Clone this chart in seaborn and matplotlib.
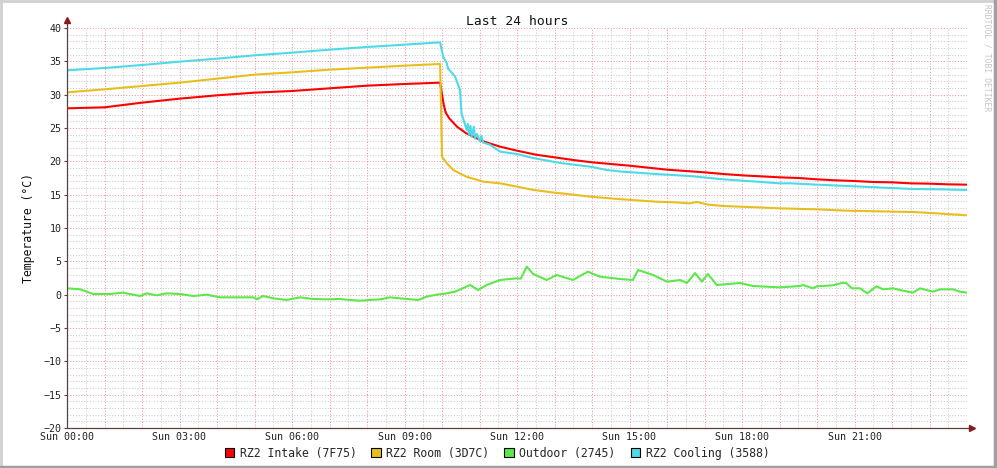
import matplotlib
matplotlib.use("Agg")
import matplotlib.pyplot as plt
import seaborn as sns
from matplotlib.lines import Line2D
from matplotlib.patches import Patch
from matplotlib.ticker import MultipleLocator

# values (hours since Sun 00:00, degrees C)
intake_hours = [0, 1, 2, 3, 4, 5, 6, 7, 8, 9,
                9.95, 10.0, 10.05, 10.1, 10.2, 10.4, 10.65, 11.1, 11.55,
                12.0, 12.5, 13.0, 13.5, 14.0, 14.5, 15.0, 15.5, 16.0, 16.5, 17.0, 17.5,
                18.0, 18.5, 19.0, 19.5, 20.0, 20.5, 21.0, 21.5, 22.0, 22.5, 23.0, 23.5, 24.0]
intake_temp = [27.95, 28.1, 28.8, 29.4, 29.9, 30.3, 30.55, 30.95, 31.35, 31.6,
               31.8, 30.0, 28.4, 27.3, 26.4, 25.2, 24.2, 23.0, 22.2,
               21.6, 21.0, 20.6, 20.2, 19.85, 19.6, 19.35, 19.05, 18.75, 18.55, 18.35, 18.1,
               17.9, 17.75, 17.6, 17.5, 17.3, 17.15, 17.05, 16.9, 16.85, 16.7, 16.65, 16.55, 16.5]

room_hours = [0, 1, 2, 3, 4, 5, 6, 7, 8, 9,
              9.95, 10.0, 10.13, 10.3, 10.65, 11.1, 11.55, 12.0, 12.45, 13.0, 13.35, 13.95,
              14.8, 15.7, 16.2, 16.6, 16.8, 17.1, 17.5, 18.4, 19.0, 19.3, 20.0, 20.8,
              21.6, 22.55, 23.2, 24.0]
room_temp = [30.35, 30.8, 31.3, 31.8, 32.4, 33.0, 33.35, 33.75, 34.05, 34.35,
             34.6, 20.7, 19.7, 18.7, 17.7, 16.95, 16.7, 16.2, 15.7, 15.3, 15.1, 14.7,
             14.3, 13.95, 13.85, 13.7, 13.9, 13.5, 13.3, 13.1, 12.95, 12.9, 12.8, 12.6,
             12.5, 12.4, 12.2, 11.9]

outdoor_hours = [0, 0.35, 0.7, 1.15, 1.49, 1.95, 2.13, 2.39, 2.66, 3.01,
                 3.37, 3.73, 4.08, 4.97, 5.06, 5.23, 5.5, 5.86, 6.21, 6.57,
                 6.93, 7.28, 7.55, 7.81, 8.35, 8.61, 8.88, 9.37, 9.59, 9.86,
                 10.13, 10.35, 10.75, 10.96, 11.19, 11.55, 11.99, 12.1, 12.26, 12.43,
                 12.79, 13.06, 13.49, 13.89, 14.21, 14.75, 15.09, 15.23, 15.63, 16.0,
                 16.35, 16.53, 16.75, 16.93, 17.09, 17.33, 17.95, 18.29, 19.01, 19.55,
                 19.63, 19.89, 19.99, 20.43, 20.69, 20.79, 20.93, 21.15, 21.34, 21.59,
                 21.76, 22.03, 22.29, 22.56, 22.75, 23.09, 23.28, 23.63, 23.81, 24.0]
outdoor_temp = [0.95, 0.8, 0.1, 0.1, 0.3, -0.2, 0.2, -0.1, 0.2, 0.1,
                -0.2, 0.0, -0.4, -0.4, -0.7, -0.2, -0.55, -0.8, -0.4, -0.65,
                -0.7, -0.65, -0.8, -0.9, -0.7, -0.4, -0.55, -0.8, -0.3, 0.0,
                0.2, 0.45, 1.45, 0.7, 1.45, 2.2, 2.45, 2.4, 4.2, 3.1,
                2.2, 2.95, 2.2, 3.45, 2.7, 2.35, 2.2, 3.7, 2.95, 1.95,
                2.2, 1.75, 3.25, 1.95, 3.1, 1.45, 1.75, 1.3, 1.1, 1.3,
                1.45, 0.95, 1.25, 1.4, 1.8, 1.7, 0.95, 0.95, 0.2, 1.25,
                0.8, 0.95, 0.6, 0.3, 0.95, 0.45, 0.8, 0.8, 0.45, 0.3]

cooling_hours = [0, 1, 2, 3, 4, 5, 6, 7, 8, 9,
                 9.95, 10.03, 10.13, 10.16, 10.35, 10.48, 10.52, 10.66, 10.69, 10.72,
                 10.76, 10.79, 10.85, 10.88, 10.93, 11.01, 11.05, 11.1, 11.28, 11.55,
                 12.0, 12.43, 13.15, 13.95, 14.4, 14.8, 15.7, 16.6, 17.5, 18.4,
                 19.0, 19.3, 20.0, 20.8, 21.6, 22.55, 23.3, 24.0]
cooling_temp = [33.65, 34.0, 34.45, 34.95, 35.4, 35.9, 36.3, 36.75, 37.15, 37.5,
                37.85, 35.7, 34.7, 33.95, 32.7, 30.7, 27.2, 24.7, 25.6, 24.0,
                25.3, 23.7, 25.2, 23.4, 24.1, 23.0, 23.8, 22.8, 22.5, 21.45,
                21.1, 20.5, 19.75, 19.2, 18.7, 18.45, 18.1, 17.8, 17.3, 16.95,
                16.7, 16.7, 16.5, 16.3, 16.1, 15.85, 15.8, 15.7]

series_labels = ["RZ2 Intake (7F75)", "RZ2 Room (3D7C)", "Outdoor (2745)", "RZ2 Cooling (3588)"]
series_colors = ["#FF0000", "#E8BE1E", "#5CE84A", "#4CDAE8"]

tick_hours = [0, 3, 6, 9, 12, 15, 18, 21]
tick_labels = ["Sun 00:00", "Sun 03:00", "Sun 06:00", "Sun 09:00",
               "Sun 12:00", "Sun 15:00", "Sun 18:00", "Sun 21:00"]

sns.set_theme(style="white")
plt.rcParams["font.family"] = ["DejaVu Sans Mono", "DejaVu Sans"]

fig = plt.figure(figsize=(9.97, 4.68), dpi=100)
fig.patch.set_facecolor("white")
ax = fig.add_axes([67 / 997, 40 / 468, 900 / 997, 400 / 468])

# grid, RRD style: grey dotted minor, pink dotted major
ax.xaxis.set_major_locator(MultipleLocator(1))
ax.xaxis.set_minor_locator(MultipleLocator(0.5))
ax.yaxis.set_major_locator(MultipleLocator(5))
ax.yaxis.set_minor_locator(MultipleLocator(1))
ax.grid(which="minor", color="#c8c8c8", linestyle=(0, (1, 1.8)), linewidth=0.72)
ax.grid(which="major", color="#ee9090", linestyle=(0, (1, 1.8)), linewidth=0.72)
ax.set_axisbelow(True)

all_hours = [intake_hours, room_hours, outdoor_hours, cooling_hours]
all_temps = [intake_temp, room_temp, outdoor_temp, cooling_temp]
for h, t, c in zip(all_hours, all_temps, series_colors):
    sns.lineplot(x=h, y=t, ax=ax, color=c, linewidth=1.5, estimator=None, sort=False)

ax.set_xlim(0, 24)
ax.set_ylim(-20, 40)

ax.set_xticks(list(range(25)))
ax.set_xticklabels([tick_labels[tick_hours.index(i)] if i in tick_hours else "" for i in range(25)])
ax.tick_params(axis="x", which="both", length=0, pad=3, labelsize=7.2, colors="#222222")
ax.tick_params(axis="y", which="major", length=2.5, width=0.8, color="#5a4040",
               pad=1.5, labelsize=7.2, labelcolor="#222222", left=True)
ax.tick_params(axis="y", which="minor", length=0)

for s in ax.spines.values():
    s.set_visible(False)

# axis lines with small arrow heads
axis_col = "#5a4040"
ax.plot([0, 1.006], [0, 0], transform=ax.transAxes, color=axis_col, lw=0.9, clip_on=False)
ax.plot([0, 0], [0, 1.02], transform=ax.transAxes, color=axis_col, lw=0.9, clip_on=False)
ax.plot([1.006], [0], marker=">", markersize=4, color="#8b1a1a", transform=ax.transAxes, clip_on=False)
ax.plot([0], [1.02], marker="^", markersize=4, color="#8b1a1a", transform=ax.transAxes, clip_on=False)

ax.set_title("Last 24 hours", fontsize=9.4, color="#111111", pad=2)
ax.set_ylabel("Temperature (°C)", fontsize=8.3, color="#111111", labelpad=6)
ax.set_xlabel("")

handles = [Patch(facecolor=c, edgecolor="black", linewidth=0.8, label=l)
           for c, l in zip(series_colors, series_labels)]
fig.legend(handles=handles, loc="center", bbox_to_anchor=(0.4985, 15 / 468), ncol=4,
           frameon=False, fontsize=8.3, handlelength=0.8, handleheight=0.8,
           handletextpad=0.5, columnspacing=1.3, borderpad=0)

fig.text(987 / 997, 1 - 4 / 468, "RRDTOOL / TOBI OETIKER", rotation=270,
         ha="center", va="top", fontsize=5.8, color="#c4c4c4")

# frame around the canvas
fig.add_artist(Line2D([0.001, 0.001], [0, 1], transform=fig.transFigure, color="#d0d0d0", lw=2))
fig.add_artist(Line2D([0, 1], [0.998, 0.998], transform=fig.transFigure, color="#d0d0d0", lw=2))
fig.add_artist(Line2D([0.998, 0.998], [0, 1], transform=fig.transFigure, color="#a0a0a0", lw=2.5))
fig.add_artist(Line2D([0, 1], [0.003, 0.003], transform=fig.transFigure, color="#a0a0a0", lw=2.5))

fig.savefig("out.png", dpi=100)
